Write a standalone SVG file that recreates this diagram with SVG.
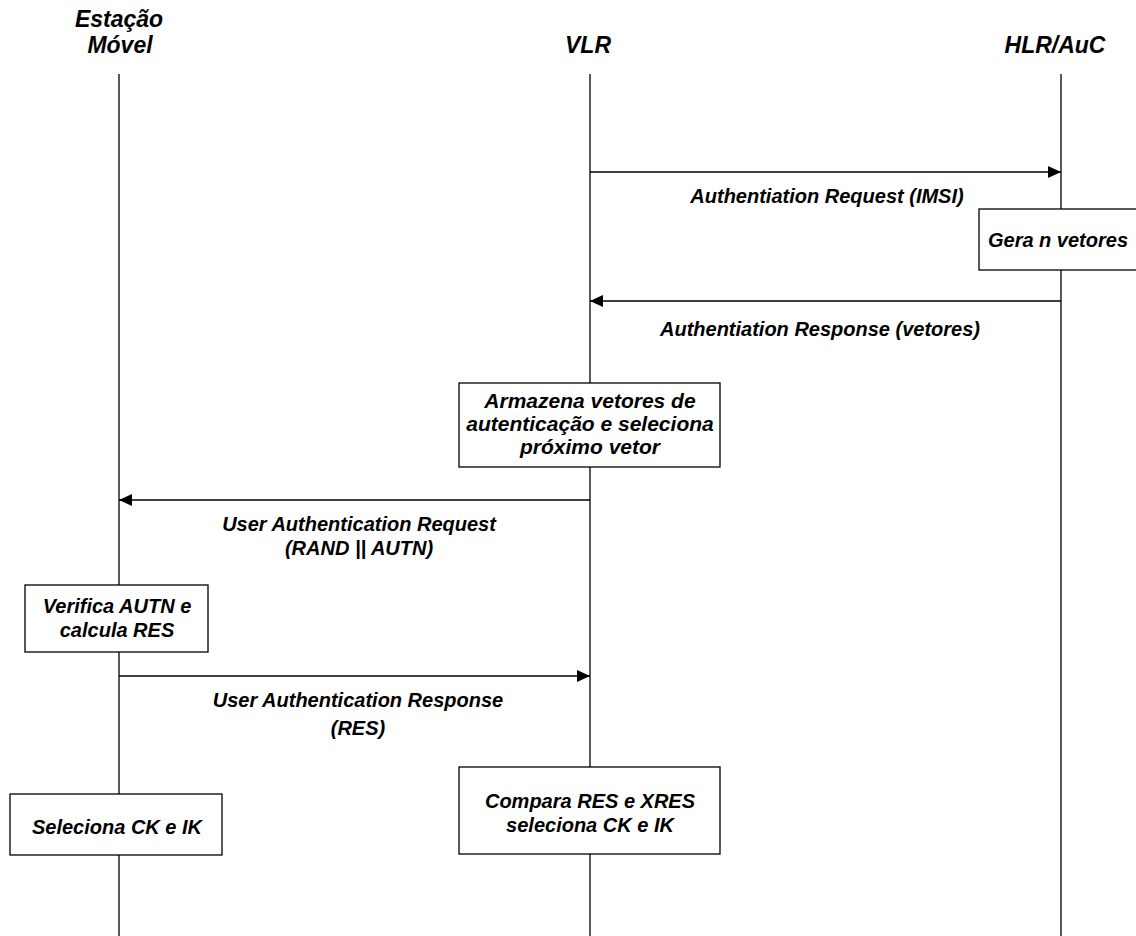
<svg xmlns="http://www.w3.org/2000/svg" width="1136" height="936" viewBox="0 0 1136 936">
  <style>
    text { font-family: "Liberation Sans", Arial, sans-serif; font-weight: bold; font-style: italic; fill: #000; text-anchor: middle; }
    .head { font-size: 23px; }
    .lbl { font-size: 20px; }
    .big { font-size: 21px; }
    .life { stroke: #000; stroke-width: 1.3; fill: none; }
    .msg { stroke: #000; stroke-width: 1.5; fill: none; marker-end: url(#arrow); }
    .box { fill: #fff; stroke: #000; stroke-width: 1.3; }
  </style>
  <defs>
    <marker id="arrow" viewBox="0 0 13 12" refX="13" refY="6" markerWidth="13" markerHeight="12" markerUnits="userSpaceOnUse" orient="auto">
      <path d="M0,0 L13,6 L0,12 Z" fill="#000"/>
    </marker>
  </defs>
  <rect width="1136" height="936" fill="#fff"/>

  <!-- participants and lifelines -->
  <g id="ms">
    <text class="head" x="119" y="27">Estação</text>
    <text class="head" x="120" y="53">Móvel</text>
    <line class="life" x1="119" y1="74" x2="119" y2="936"/>
  </g>
  <g id="vlr">
    <text class="head" x="588" y="53">VLR</text>
    <line class="life" x1="590" y1="74" x2="590" y2="936"/>
  </g>
  <g id="hlr">
    <text class="head" x="1055" y="53">HLR/AuC</text>
    <line class="life" x1="1061" y1="74" x2="1061" y2="936"/>
  </g>

  <!-- messages -->
  <g id="connectors">
    <line class="msg" x1="590" y1="172" x2="1061" y2="172"/>
    <text class="lbl" x="827" y="203">Authentiation Request (IMSI)</text>

    <line class="msg" x1="1061" y1="301" x2="590" y2="301"/>
    <text class="lbl" x="820" y="336">Authentiation Response (vetores)</text>

    <line class="msg" x1="590" y1="500" x2="119" y2="500"/>
    <text class="lbl" x="359" y="531">User Authentication Request</text>
    <text class="lbl" x="359" y="555">(RAND || AUTN)</text>

    <line class="msg" x1="119" y1="676" x2="590" y2="676"/>
    <text class="lbl" x="358" y="707">User Authentication Response</text>
    <text class="lbl" x="358" y="735">(RES)</text>
  </g>

  <!-- activity boxes -->
  <g id="gera">
    <rect class="box" x="979" y="209" width="170" height="61"/>
    <text class="lbl" x="1058" y="247">Gera n vetores</text>
  </g>
  <g id="armazena">
    <rect class="box" x="459" y="383" width="261" height="84"/>
    <text class="big" x="590" y="408">Armazena vetores de</text>
    <text class="big" x="590" y="431">autenticação e seleciona</text>
    <text class="big" x="590" y="454">próximo vetor</text>
  </g>
  <g id="verifica">
    <rect class="box" x="25" y="585" width="183" height="67"/>
    <text class="lbl" x="117" y="613">Verifica AUTN e</text>
    <text class="lbl" x="117" y="637">calcula RES</text>
  </g>
  <g id="seleciona-ms">
    <rect class="box" x="10" y="794" width="212" height="61"/>
    <text class="lbl" x="117" y="834">Seleciona CK e IK</text>
  </g>
  <g id="compara">
    <rect class="box" x="459" y="767" width="261" height="87"/>
    <text class="lbl" x="590" y="808">Compara RES e XRES</text>
    <text class="lbl" x="590" y="832">seleciona CK e IK</text>
  </g>
</svg>
